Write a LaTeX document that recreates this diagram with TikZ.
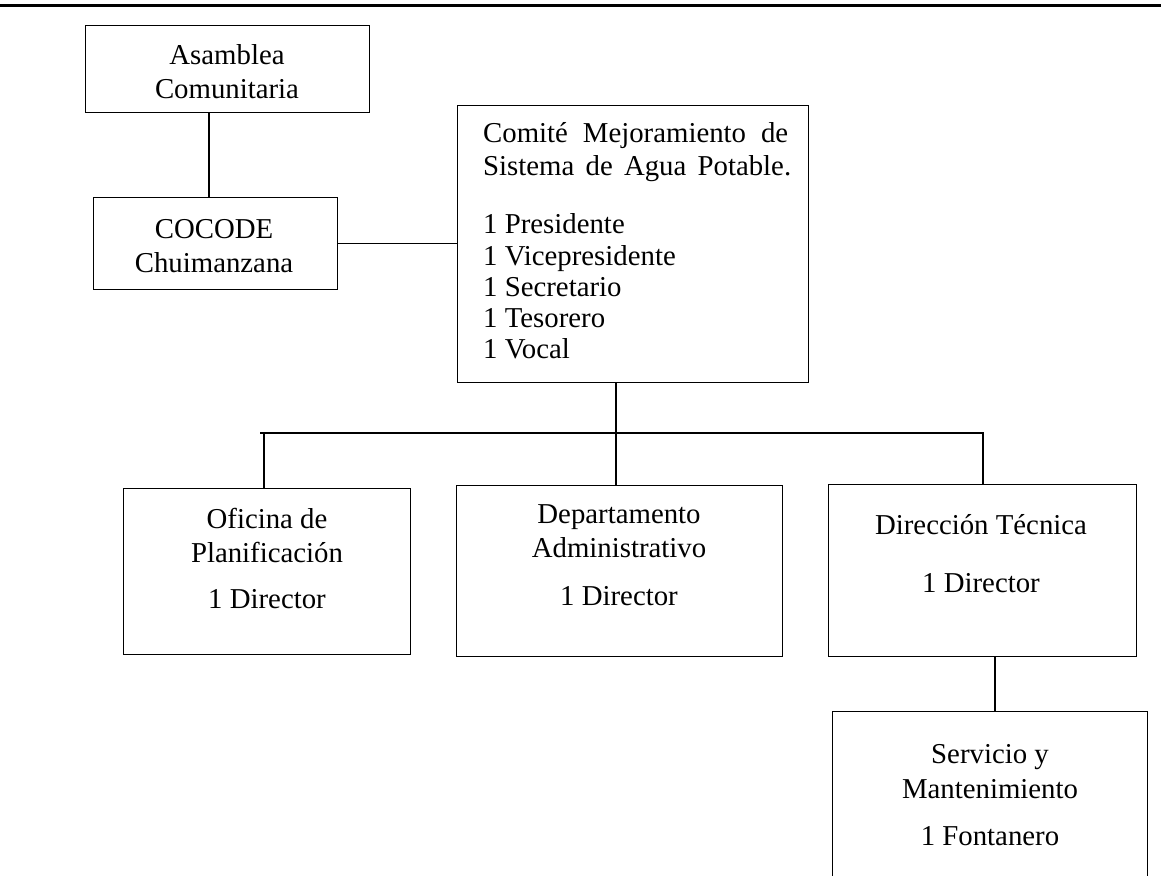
\documentclass[tikz,border=0pt]{standalone}
\usepackage{fontspec}
\setmainfont{Liberation Serif}
\begin{document}
\begin{tikzpicture}[x=1pt,y=-1pt,
  box/.style={draw, line width=1.3pt, inner sep=0pt, anchor=north west},
  lbl/.style={anchor=base, inner sep=0pt, font=\fontsize{28.8}{32}\selectfont},
  lblw/.style={anchor=base west, inner sep=0pt, font=\fontsize{28.8}{32}\selectfont},
  conn/.style={line width=1.3pt},
  rule/.style={line width=3pt}]
\path[use as bounding box, clip] (0,0) rectangle (1161,875);

% top rule
\coordinate (topL) at (0,6);
\coordinate (topR) at (1161,6);
\draw[rule] (topL) -- (topR);

% boxes
\node[box, minimum width=284pt, minimum height=87pt] (asam) at (85,25) {};
\node[box, minimum width=244pt, minimum height=92pt] (coc) at (93,197) {};
\node[box, minimum width=351pt, minimum height=277pt] (com) at (457,105) {};
\node[box, minimum width=287pt, minimum height=166pt] (ofi) at (123,488) {};
\node[box, minimum width=326pt, minimum height=171pt] (dep) at (456,485) {};
\node[box, minimum width=308pt, minimum height=172pt] (dir) at (828,484) {};
\node[box, minimum width=315pt, minimum height=200pt] (serv) at (832,711) {};

% texts
\node[lbl] (t1) at (227,65) {Asamblea};
\node[lbl] (t2) at (227,98) {Comunitaria};
\node[lbl] (t3) at (214,238) {COCODE};
\node[lbl] (t4) at (214,272) {Chuimanzana};
\node[lblw] (t5) at (483,142) {\makebox[305pt][s]{Comité Mejoramiento de}};
\node[lblw] (t6) at (483,175) {\makebox[308pt][s]{Sistema de Agua Potable.}};
\node[lblw] (t7) at (483,233) {1 Presidente};
\node[lblw] (t8) at (483,265) {1 Vicepresidente};
\node[lblw] (t9) at (483,296) {1 Secretario};
\node[lblw] (t10) at (483,327) {1 Tesorero};
\node[lblw] (t11) at (483,358) {1 Vocal};
\node[lbl] (t12) at (267,528) {Oficina de};
\node[lbl] (t13) at (267,562) {Planificación};
\node[lbl] (t14) at (267,608) {1 Director};
\node[lbl] (t15) at (619,523) {Departamento};
\node[lbl] (t16) at (619,557) {Administrativo};
\node[lbl] (t17) at (619,605) {1 Director};
\node[lbl] (t18) at (981,534) {Dirección Técnica};
\node[lbl] (t19) at (981,592) {1 Director};
\node[lbl] (t20) at (990,763) {Servicio y};
\node[lbl] (t21) at (990,798) {Mantenimiento};
\node[lbl] (t22) at (990,845) {1 Fontanero};

% connectors
\coordinate (v1) at (209,0);
\draw[conn] (v1 |- asam.south) -- (v1 |- coc.north);
\draw[conn] (coc.east) -- (coc.east -| com.west);
\coordinate (v2) at (616,0);
\draw[conn] (v2 |- com.south) -- (v2 |- dep.north);
\coordinate (busL) at (260,433);
\coordinate (busR) at (983,433);
\coordinate (dropO) at (264,433);
\draw[conn] (busL) -- (busR) -- (busR |- dir.north);
\draw[conn] (dropO) -- (dropO |- ofi.north);
\coordinate (v3) at (995,0);
\draw[conn] (v3 |- dir.south) -- (v3 |- serv.north);
\end{tikzpicture}
\end{document}
